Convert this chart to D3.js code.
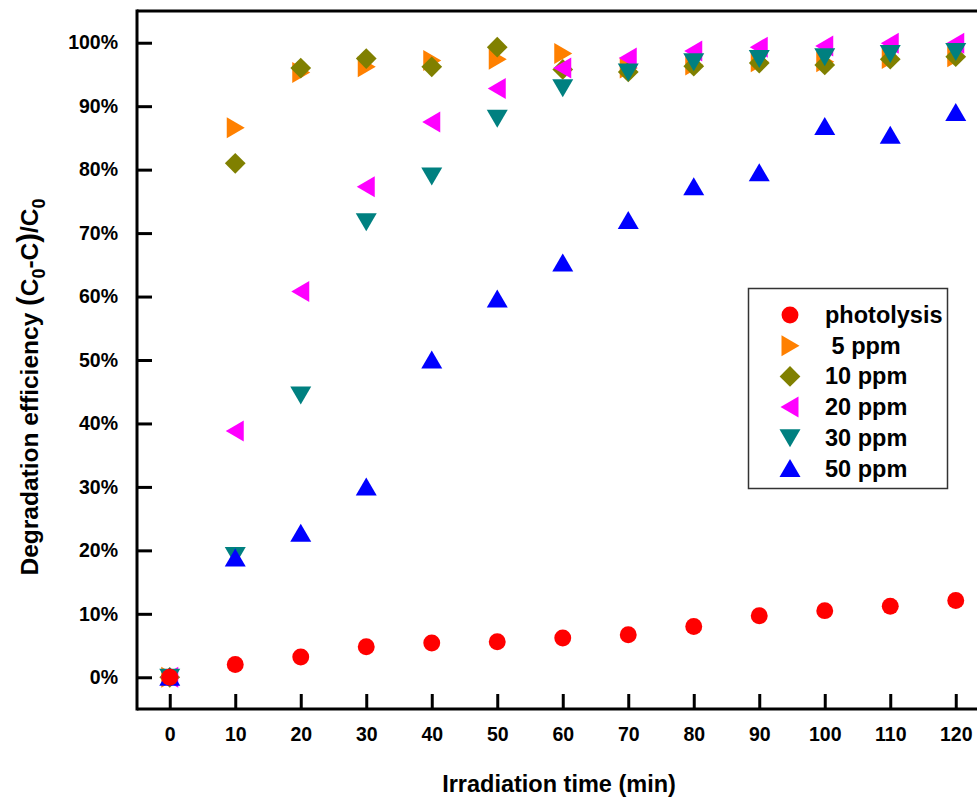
<!DOCTYPE html>
<html>
<head>
<meta charset="utf-8">
<script src="https://cdn.jsdelivr.net/npm/d3@7"></script>
<style>
  body { margin: 0; background: #fff; }
  svg { display: block; font-family: Arial, "Liberation Sans", sans-serif; font-weight: bold; }
</style>
</head>
<body>
<div id="chart"></div>
<script>
    // Data (degradation efficiency in %)
    var time = [0, 10, 20, 30, 40, 50, 60, 70, 80, 90, 100, 110, 120]
    var photolysis = [0, 2.0, 3.2, 4.8, 5.4, 5.6, 6.2, 6.7, 8.0, 9.7, 10.5, 11.2, 12.1]
    var ppm5  = [0, 86.6, 95.3, 96.2, 97.2, 97.4, 98.3, 96.0, 96.5, 97.0, 97.0, 97.5, 97.8]
    var ppm10 = [0, 81.0, 96.0, 97.5, 96.2, 99.3, 95.8, 95.4, 96.3, 96.8, 96.5, 97.4, 97.8]
    var ppm20 = [0, 38.8, 60.8, 77.3, 87.5, 92.8, 96.0, 97.6, 98.7, 99.3, 99.5, 99.9, 99.9]
    var ppm30 = [0, 19.2, 44.5, 71.8, 79.0, 88.1, 92.9, 95.4, 97.0, 97.5, 97.8, 98.3, 98.6]
    var ppm50 = [0, 18.8, 22.7, 30.0, 50.0, 59.6, 65.3, 72.0, 77.3, 79.5, 86.8, 85.4, 89.0]

    var xTicks = d3.range(0, 121, 10)
    var yTicks = d3.range(0, 101, 10)

    var canvas = ({width: 977, height: 798})
    var plot = ({left: 137, top: 11, bottom: 709})

    // series in draw order (photolysis last so it sits on top)
    var series = [
        {name: " 5 ppm",     values: ppm5,       shape: "right",  color: "#ff8000"},
        {name: "10 ppm",     values: ppm10,      shape: "diamond", color: "#808000"},
        {name: "20 ppm",     values: ppm20,      shape: "left",   color: "#ff00ff"},
        {name: "30 ppm",     values: ppm30,      shape: "down",   color: "#008080"},
        {name: "50 ppm",     values: ppm50,      shape: "up",     color: "#0000ff"},
        {name: "photolysis", values: photolysis, shape: "circle", color: "#ff0000"}
    ]
    var legendOrder = ["photolysis", " 5 ppm", "10 ppm", "20 ppm", "30 ppm", "50 ppm"]

    var x = d3.scaleLinear().domain([-5, 125]).range([plot.left, plot.left + 130 * 6.55])
    var y = d3.scaleLinear().domain([-5, 105]).range([plot.bottom, plot.top])

    function shapePath(shape) {
        if (shape == "circle") return d3.symbol(d3.symbolCircle, 225)()
        if (shape == "diamond") return d3.symbol(d3.symbolSquare, 215)()
        if (shape == "up") return "M0,-9.5L10.5,8.5L-10.5,8.5Z"
        if (shape == "down") return "M0,9.5L10.5,-8.5L-10.5,-8.5Z"
        if (shape == "right") return "M9.5,0L-8.5,-10.5L-8.5,10.5Z"
        if (shape == "left") return "M-9.5,0L8.5,-10.5L8.5,10.5Z"
    }
    function shapeRotate(shape) { return shape == "diamond" ? " rotate(45)" : "" }

    var svg = d3.select("#chart").append("svg")
        .attr("width", canvas.width)
        .attr("height", canvas.height)
        .attr("viewBox", [0, 0, canvas.width, canvas.height])

    // top frame line
    svg.append("line")
        .attr("x1", plot.left).attr("x2", x(125))
        .attr("y1", plot.top).attr("y2", plot.top)
        .attr("stroke", "#000").attr("stroke-width", 3)

    // axes
    var xAxis = svg.append("g")
        .attr("transform", `translate(0,${plot.bottom})`)
        .call(d3.axisBottom(x).tickValues(xTicks).tickSize(-15).tickSizeOuter(0).tickPadding(18))
    var yAxis = svg.append("g")
        .attr("transform", `translate(${plot.left},0)`)
        .call(d3.axisLeft(y).tickValues(yTicks).tickSize(-15).tickSizeOuter(0).tickPadding(19)
            .tickFormat(d => d + "%"))

    svg.selectAll(".domain").attr("stroke-width", 3).attr("stroke", "#000")
    svg.selectAll(".tick line").attr("stroke-width", 3).attr("stroke", "#000")
    svg.selectAll(".tick text")
        .attr("fill", "#000")
        .style("font-family", "Arial, 'Liberation Sans', sans-serif")
        .style("font-weight", "bold")
        .style("font-size", "19.5px")
    xAxis.select(".domain").attr("d", `M${plot.left},0H${x(125)}`)
    yAxis.select(".domain").attr("d", `M0,${plot.top - 1.5}V${plot.bottom + 1.5}`)

    // axis titles
    svg.append("text")
        .attr("x", 559).attr("y", 792)
        .attr("text-anchor", "middle")
        .style("font-size", "23.5px")
        .text("Irradiation time (min)")

    var yTitle = svg.append("text")
        .attr("transform", "translate(38,387) rotate(-90)")
        .attr("text-anchor", "middle")
        .style("font-size", "24.5px")
    yTitle.append("tspan").text("Degradation efficiency ")
    yTitle.append("tspan").style("font-size", "29px").text("(")
    yTitle.append("tspan").text("C")
    yTitle.append("tspan").attr("dy", 7).style("font-size", "18px").text("0")
    yTitle.append("tspan").attr("dy", -7).text("-C")
    yTitle.append("tspan").style("font-size", "29px").text(")")
    yTitle.append("tspan").text("/C")
    yTitle.append("tspan").attr("dy", 7).style("font-size", "18px").text("0")

    // markers
    series.forEach(function(s) {
        svg.append("g")
            .selectAll("path")
            .data(time.map((t, i) => [t, s.values[i]]))
            .join("path")
            .attr("transform", d => `translate(${x(d[0])},${y(d[1])})` + shapeRotate(s.shape))
            .attr("d", shapePath(s.shape))
            .attr("fill", s.color)
    })

    // legend
    var legend = svg.append("g")
    legend.append("rect")
        .attr("x", 748.5).attr("y", 288.5)
        .attr("width", 199).attr("height", 200)
        .attr("fill", "#fff").attr("stroke", "#333").attr("stroke-width", 1.5)

    legendOrder.forEach(function(name, i) {
        var s = series.find(d => d.name == name)
        var ly = 315 + i * 30.7
        legend.append("path")
            .attr("transform", `translate(790,${ly})` + shapeRotate(s.shape))
            .attr("d", shapePath(s.shape))
            .attr("fill", s.color)
        legend.append("text")
            .attr("x", 825).attr("y", ly)
            .attr("dominant-baseline", "central")
            .style("font-size", "23.5px")
            .style("white-space", "pre")
            .text(s.name)
    })
</script>
</body>
</html>
